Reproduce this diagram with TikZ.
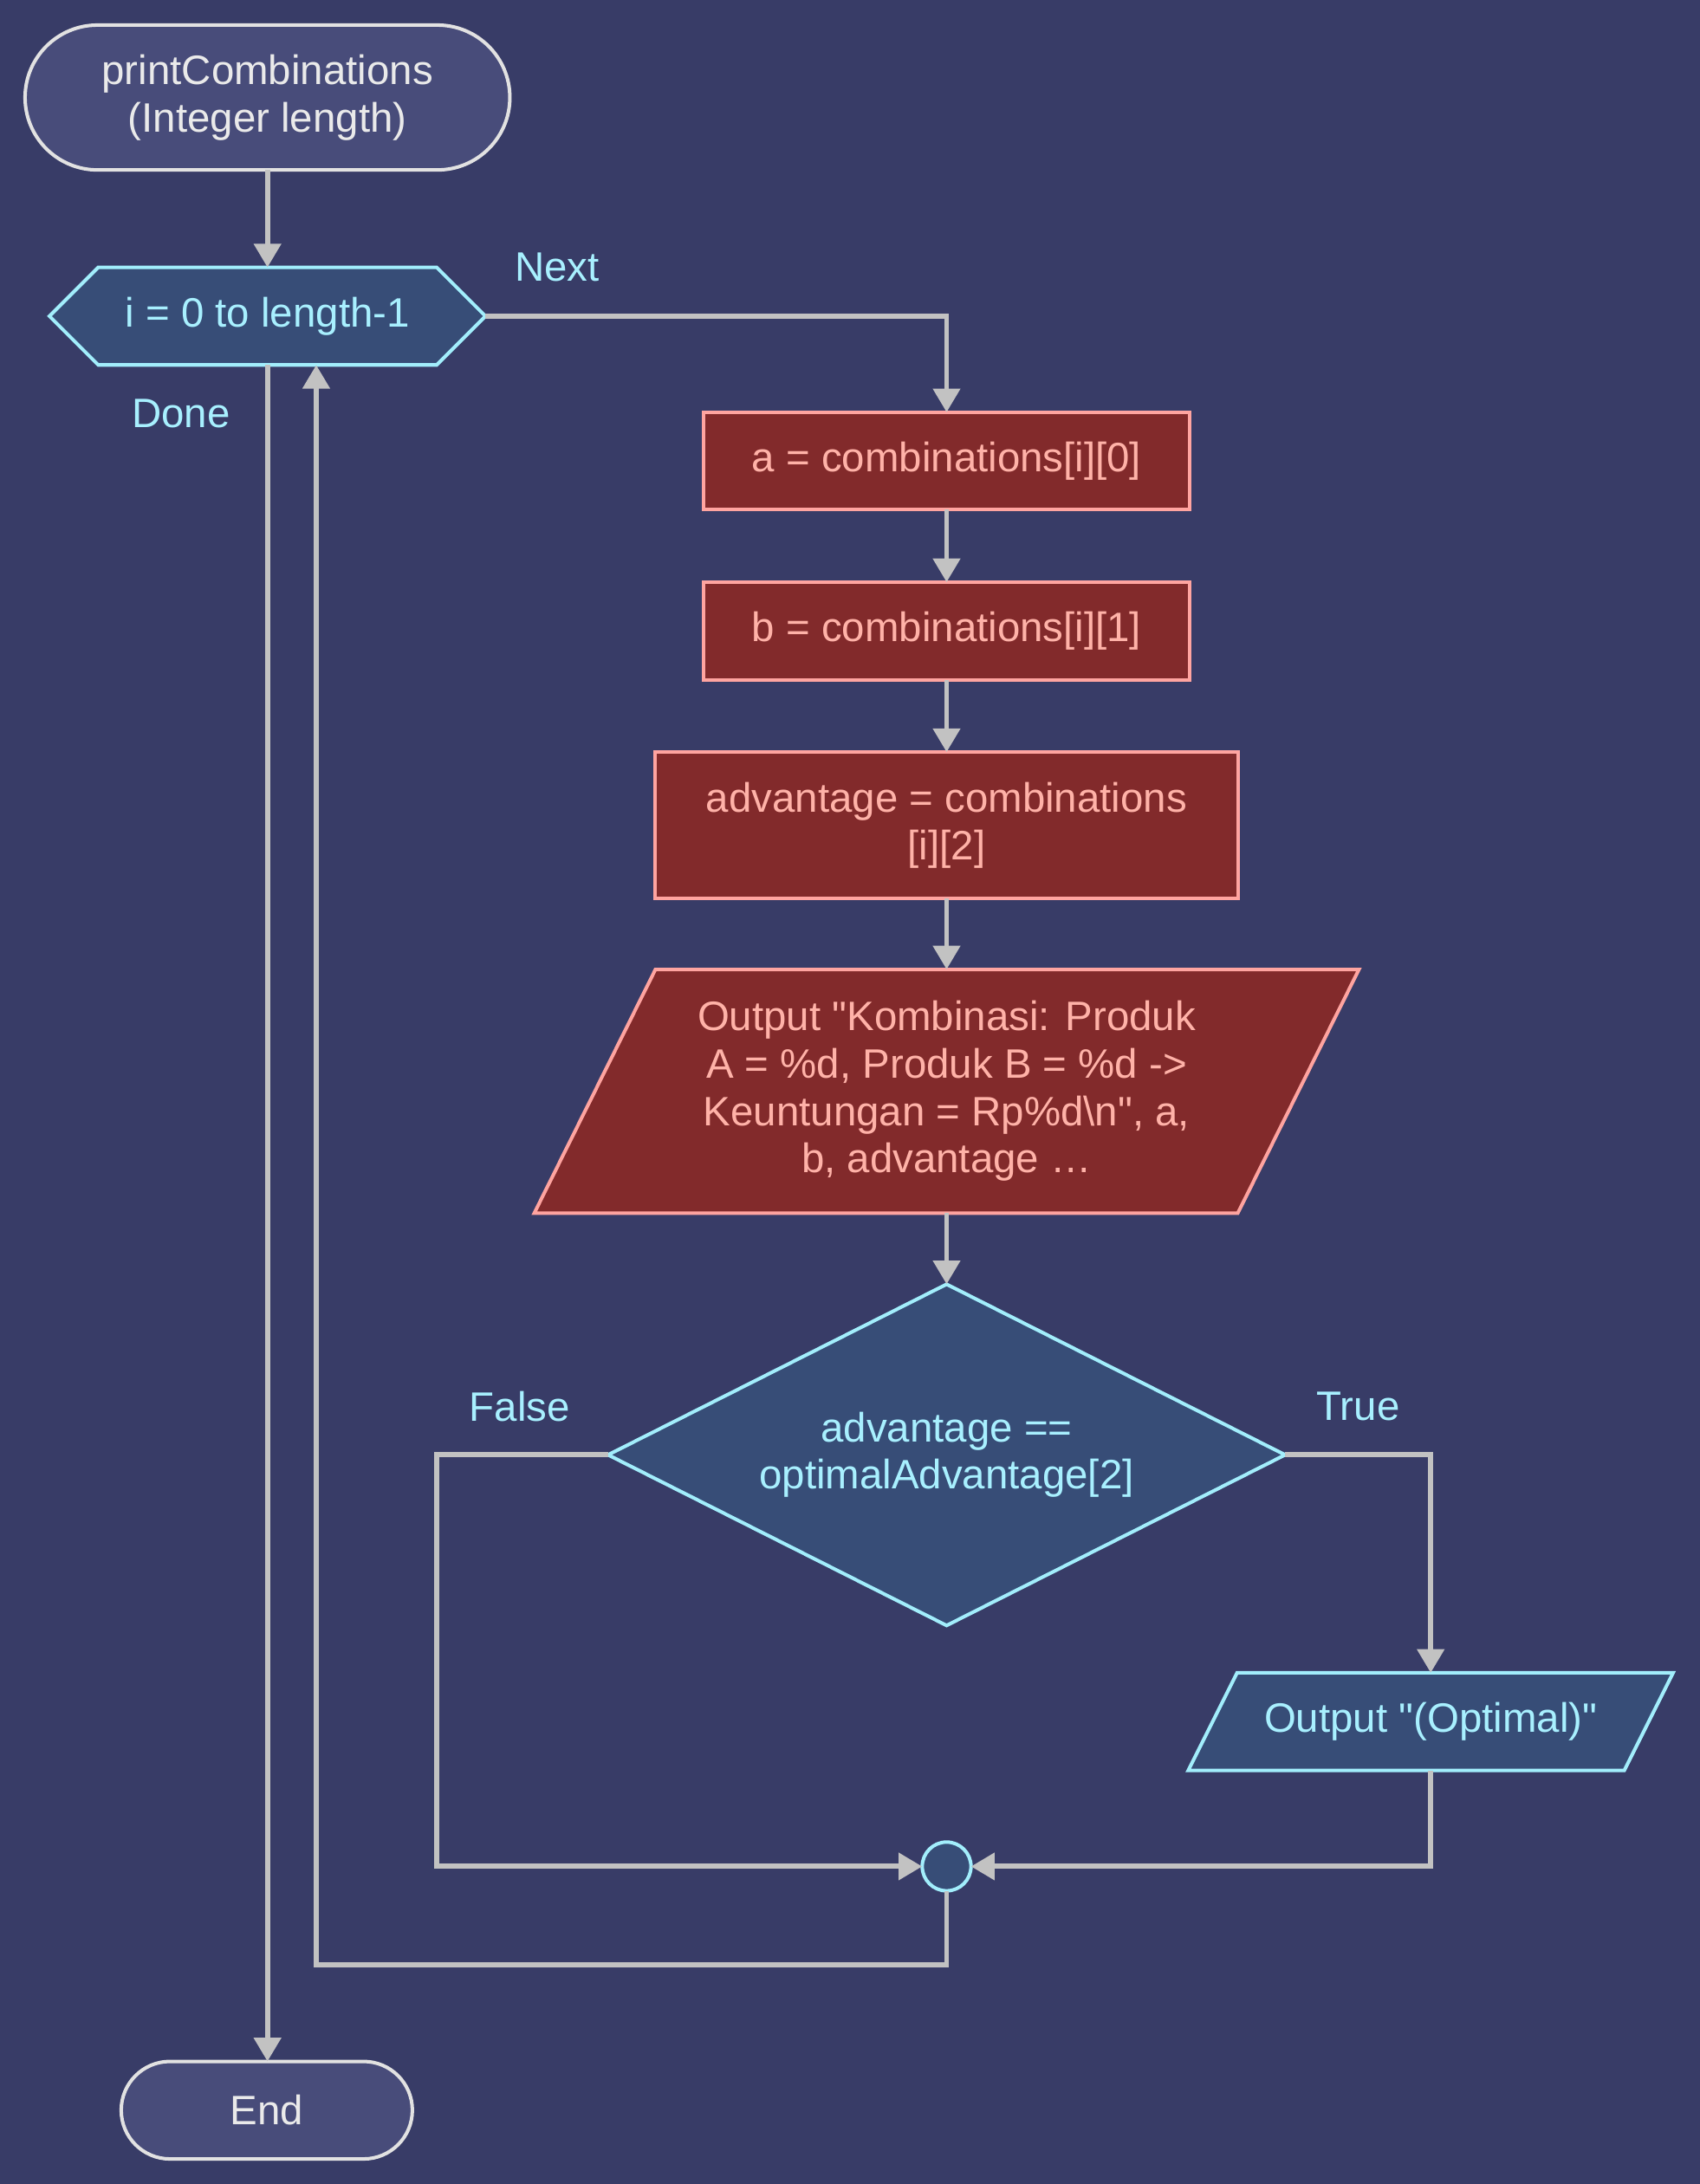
\documentclass[tikz,border=0pt]{standalone}
\usepackage{fontspec}
\setmainfont{Liberation Sans}[Ligatures=TeXOff]
\usetikzlibrary{arrows.meta,shapes.geometric,backgrounds}
\definecolor{bg}{HTML}{383C67}
\definecolor{termfill}{HTML}{484C7A}
\definecolor{termline}{HTML}{E2E2E2}
\definecolor{termtext}{HTML}{EAEAEA}
\definecolor{bluefill}{HTML}{374D77}
\definecolor{blueline}{HTML}{A2EEFC}
\definecolor{bluetext}{HTML}{A8F0FF}
\definecolor{redfill}{HTML}{822A2B}
\definecolor{redline}{HTML}{FFA4A0}
\definecolor{redtext}{HTML}{FFB2A8}
\definecolor{arrowc}{HTML}{C2C2C2}
\tikzset{
  base/.style={font=\fontsize{29.5}{34}\selectfont, inner sep=0pt, outer sep=0pt, align=center, line width=2.5pt},
  term/.style={base, draw=termline, fill=termfill, text=termtext},
  proc/.style={base, draw=redline, fill=redfill, text=redtext},
  blueshape/.style={draw=blueline, fill=bluefill, line width=2.5pt},
  redshape/.style={draw=redline, fill=redfill, line width=2.5pt},
  lbl/.style={font=\fontsize{29.5}{34}\selectfont, text=bluetext, inner sep=0pt},
  conn/.style={draw=arrowc, line width=3.7pt, -{Triangle[length=17pt,width=19pt]}}
}
\begin{document}
\begin{tikzpicture}[x=1pt,y=-1pt]
\useasboundingbox (0,0) rectangle (1220,1568);
% nodes
\node[term, minimum width=348pt, minimum height=104pt, rounded corners=52pt] (start) at (192,70) {printCombinations\\(Integer length)};
\node[base, text=bluetext, minimum width=313pt, minimum height=70pt] (loop) at (192,227) {i = 0 to length-1};
\node[proc, minimum width=349pt, minimum height=70pt] (a) at (679.5,331) {a = combinations[i][0]};
\node[proc, minimum width=349pt, minimum height=70pt] (b) at (679.5,453) {b = combinations[i][1]};
\node[proc, minimum width=418pt, minimum height=105pt] (adv) at (679.5,592.5) {advantage = combinations\\{[i][2]}};
\node[base, text=redtext, minimum width=592pt, minimum height=175pt] (out1) at (679.5,783.5) {Output "Kombinasi: Produk\\A = \%d, Produk B = \%d ->\\Keuntungan = Rp\%d\textbackslash n", a,\\b, advantage …};
\node[base, text=bluetext, minimum width=486pt, minimum height=245pt] (dec) at (679.5,1044.5) {advantage ==\\optimalAdvantage[2]};
\node[base, text=bluetext, minimum width=348pt, minimum height=70pt] (opt) at (1027,1236) {Output "(Optimal)"};
\node[base, shape=circle, draw=blueline, fill=bluefill, minimum size=35pt] (join) at (679.5,1340) {};
\node[term, minimum width=209pt, minimum height=70pt, rounded corners=35pt] (end) at (191.5,1515) {End};
% labels
\node[lbl] (lnext) at (400,192) {Next};
\node[lbl] (ldone) at (130,297) {Done};
\node[lbl] (lfalse) at (373,1010) {False};
\node[lbl] (ltrue) at (975,1010) {True};
% shapes behind text
\begin{pgfonlayer}{background}
\fill[bg] (0,0) rectangle (1220,1568);
\filldraw[blueshape] (loop.west) -- ([xshift=35pt]loop.north west) -- ([xshift=-35pt]loop.north east) -- (loop.east) -- ([xshift=-35pt]loop.south east) -- ([xshift=35pt]loop.south west) -- cycle;
\filldraw[redshape] ([xshift=87pt]out1.north west) -- (out1.north east) -- ([xshift=-87pt]out1.south east) -- (out1.south west) -- cycle;
\filldraw[blueshape] (dec.north) -- (dec.east) -- (dec.south) -- (dec.west) -- cycle;
\filldraw[blueshape] ([xshift=35pt]opt.north west) -- (opt.north east) -- ([xshift=-35pt]opt.south east) -- (opt.south west) -- cycle;
\end{pgfonlayer}
% connectors
\draw[conn] (start.south) -- (loop.north);
\draw[conn] (loop.east) -| (a.north);
\draw[conn] (loop.south) -- (loop.south |- end.north);
\draw[conn] (a.south) -- (b.north);
\draw[conn] (b.south) -- (adv.north);
\draw[conn] (adv.south) -- (out1.north);
\draw[conn] (out1.south) -- (dec.north);
\draw[conn] (dec.west) -- ++(-123,0) |- (join.west);
\draw[conn] (dec.east) -| (opt.north);
\draw[conn] (opt.south) |- (join.east);
\draw[conn] (join.south) -- ++(0,53) -| ([xshift=35pt]loop.south);
\end{tikzpicture}
\end{document}
